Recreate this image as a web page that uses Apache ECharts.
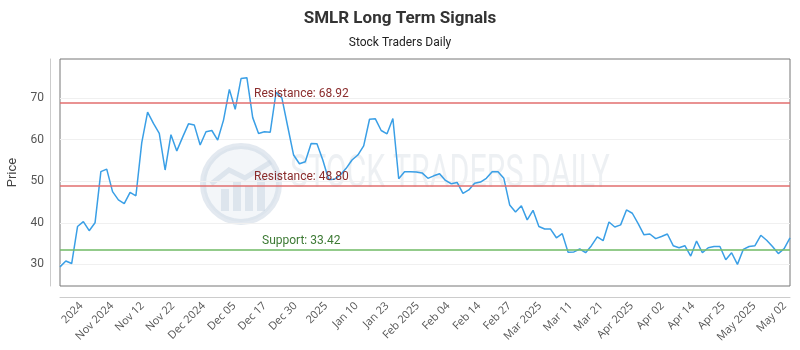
<!DOCTYPE html>
<html>
<head>
<meta charset="utf-8">
<script src="https://cdn.jsdelivr.net/npm/echarts@6/dist/echarts.min.js"></script>
<style>
  html, body { margin: 0; padding: 0; background: #fff; }
  #chart { width: 800px; height: 350px; }
</style>
</head>
<body>
<div id="chart"></div>
<script>
// closing prices, one per trading day
var prices = [
    29.4, 30.8, 30.2, 39.1, 40.3, 38.1, 40.0, 52.3, 52.9, 47.5,
    45.5, 44.6, 47.3, 46.5, 59.3, 66.6, 63.9, 61.5, 52.7, 61.2,
    57.3, 60.6, 63.8, 63.5, 58.7, 61.9, 62.2, 59.9, 64.7, 72.1,
    67.3, 74.7, 74.9, 65.3, 61.5, 61.9, 61.8, 71.4, 70.0, 63.1,
    56.3, 54.2, 54.7, 59.1, 59.0, 55.1, 50.4, 50.5, 51.5, 53.1,
    55.1, 56.3, 58.5, 64.9, 65.0, 62.2, 61.4, 65.1, 50.6, 52.3,
    52.3, 52.2, 52.0, 50.7, 51.3, 51.8, 50.2, 49.4, 49.7, 47.1,
    47.9, 49.5, 49.8, 50.7, 52.3, 52.3, 50.7, 44.3, 42.6, 44.1,
    40.7, 43.0, 39.1, 38.5, 38.5, 36.4, 37.4, 32.9, 33.0, 33.7,
    32.8, 34.5, 36.6, 35.7, 40.2, 39.0, 39.5, 43.1, 42.3, 39.8,
    37.1, 37.3, 36.2, 36.7, 37.3, 34.5, 34.0, 34.5, 32.0, 35.6,
    32.8, 34.0, 34.3, 34.3, 31.1, 32.8, 30.0, 33.6, 34.3, 34.5,
    37.0, 35.8, 34.3, 32.6, 33.8, 36.4
];
var days = prices.map(function (v, i) { return String(i + 1); });

var tickLabels = [
    '2024', 'Nov 2024', 'Nov 12', 'Nov 22', 'Dec 2024', 'Dec 05', 'Dec 17', 'Dec 30',
    '2025', 'Jan 10', 'Jan 23', 'Feb 2025', 'Feb 04', 'Feb 14', 'Feb 27', 'Mar 2025',
    'Mar 11', 'Mar 21', 'Apr 2025', 'Apr 02', 'Apr 14', 'Apr 25', 'May 2025', 'May 02'
];
var priceTicks = [30, 40, 50, 60, 70];

var resistanceHigh = 68.92;
var resistanceLow = 48.80;
var support = 33.42;

var chart = echarts.init(document.getElementById('chart'));

function levelLine(value, name, lineColor, textColor, dx) {
    return {
        yAxis: value,
        lineStyle: { color: lineColor, width: 2, type: 'solid' },
        label: {
            show: true,
            position: 'insideStartTop',
            distance: [dx, 3],
            formatter: name + ': ' + value.toFixed(2),
            color: textColor,
            fontSize: 12,
            fontFamily: 'Roboto'
        }
    };
}

var wmColor = 'rgba(200,212,225,0.5)';

var option = {
    animation: false,
    title: {
        text: 'SMLR Long Term Signals',
        subtext: 'Stock Traders Daily',
        left: 'center',
        top: 5,
        itemGap: 10,
        textStyle: { fontSize: 17, fontWeight: 'bold', color: '#333', fontFamily: 'Roboto' },
        subtextStyle: { fontSize: 12, color: '#222', fontFamily: 'Roboto' }
    },
    graphic: [
        {
            type: 'group',
            left: 200, top: 143, silent: true, z: 0,
            children: [
                { type: 'circle', shape: { cx: 40, cy: 40, r: 38 },
                  style: { fill: 'rgba(215,225,235,0.3)', stroke: wmColor, lineWidth: 6 } },
                { type: 'rect', shape: { x: 20, y: 45, width: 8, height: 22 }, style: { fill: wmColor } },
                { type: 'rect', shape: { x: 32, y: 38, width: 8, height: 29 }, style: { fill: wmColor } },
                { type: 'rect', shape: { x: 44, y: 42, width: 8, height: 25 }, style: { fill: wmColor } },
                { type: 'rect', shape: { x: 56, y: 34, width: 8, height: 33 }, style: { fill: wmColor } },
                { type: 'polyline', shape: { points: [[10, 40], [28, 26], [44, 34], [70, 18]] },
                  style: { stroke: wmColor, lineWidth: 5, fill: null } }
            ]
        },
        {
            type: 'text', left: 290, top: 152, silent: true, z: 0,
            scaleX: 0.66,
            style: {
                text: 'STOCK TRADERS DAILY',
                fontSize: 46,
                fontFamily: 'Roboto',
                fill: 'rgba(190,200,212,0.28)'
            }
        }
    ],
    grid: [
        {
            left: 60, right: 10, top: 59, bottom: 64,
            outerBoundsMode: 'none',
            show: true, borderColor: '#777', borderWidth: 1
        },
        {
            // only carries the date labels
            left: 66, right: 0, top: 59, bottom: 64,
            outerBoundsMode: 'none'
        }
    ],
    xAxis: [
        {
            type: 'category',
            gridIndex: 0,
            data: days,
            boundaryGap: false,
            offset: 11,
            axisLine: { show: true, lineStyle: { color: '#ccc' } },
            axisTick: { show: false },
            axisLabel: { show: false },
            splitLine: { show: false }
        },
        {
            type: 'category',
            gridIndex: 1,
            data: tickLabels,
            position: 'bottom',
            offset: 11,
            boundaryGap: true,
            axisLine: { show: false },
            axisTick: { show: false },
            axisLabel: {
                rotate: 45,
                interval: 0,
                margin: 7,
                fontSize: 11,
                color: '#555',
                fontFamily: 'Open Sans'
            },
            splitLine: { show: false }
        }
    ],
    yAxis: [
        {
            type: 'value',
            gridIndex: 0,
            min: 24.8,
            max: 79.4,
            offset: 10,
            name: 'Price',
            nameLocation: 'middle',
            nameGap: 21,
            nameTextStyle: { fontSize: 13, color: '#444', fontFamily: 'Roboto' },
            axisLine: { show: true, lineStyle: { color: '#ccc' } },
            axisTick: { show: false, customValues: priceTicks },
            axisLabel: { customValues: priceTicks, fontSize: 12, color: '#555', margin: 6, fontFamily: 'Roboto' },
            splitLine: { show: true, lineStyle: { color: '#f0f0f0' } }
        },
        {
            type: 'value',
            gridIndex: 1,
            show: false
        }
    ],
    series: [
        {
            type: 'line',
            xAxisIndex: 0,
            yAxisIndex: 0,
            data: prices,
            showSymbol: false,
            lineStyle: { color: '#3a9fe6', width: 1.5 },
            itemStyle: { color: '#3a9fe6' },
            z: 3,
            markLine: {
                silent: true,
                symbol: 'none',
                data: [
                    levelLine(resistanceHigh, 'Resistance', 'rgba(225,110,110,0.75)', '#8a2c2c', 194),
                    levelLine(resistanceLow, 'Resistance', 'rgba(225,110,110,0.75)', '#8a2c2c', 194),
                    levelLine(support, 'Support', 'rgba(120,190,110,0.8)', '#3d7a34', 202)
                ]
            }
        }
    ]
};

chart.setOption(option);
</script>
</body>
</html>
